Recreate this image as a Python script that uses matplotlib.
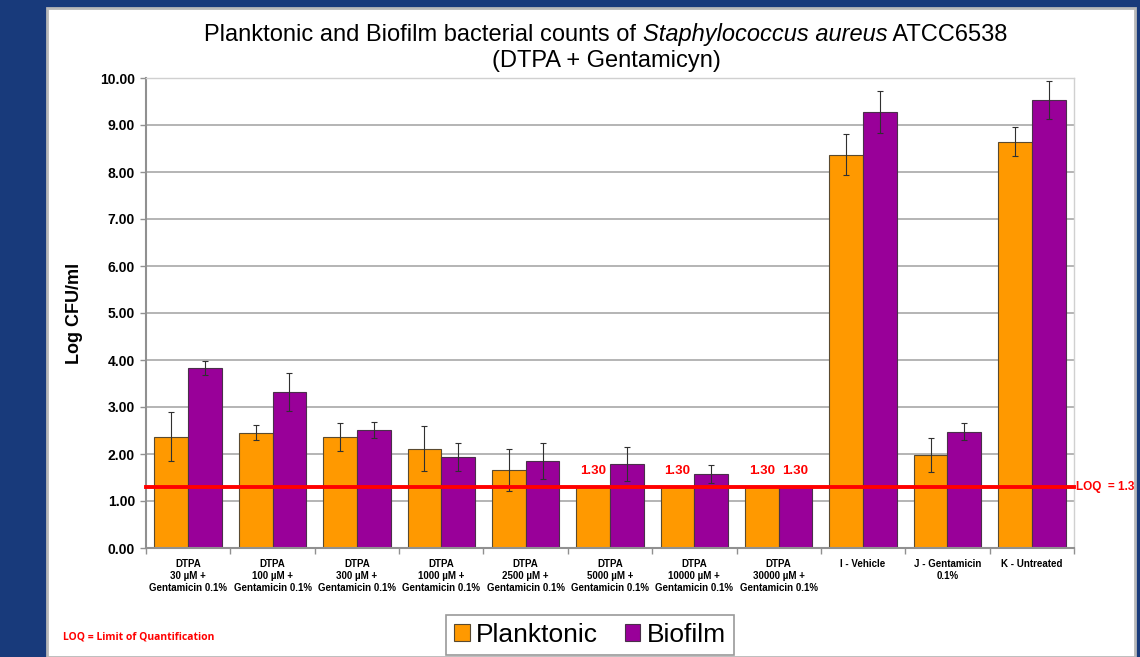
import numpy as np
import matplotlib
matplotlib.use("Agg")
import matplotlib.pyplot as plt
from matplotlib.patches import Rectangle

plt.rcParams['font.family'] = ['Liberation Sans', 'DejaVu Sans']

# data
groups = ["DTPA\n30 µM +\nGentamicin 0.1%", "DTPA\n100 µM +\nGentamicin 0.1%",
          "DTPA\n300 µM +\nGentamicin 0.1%", "DTPA\n1000 µM +\nGentamicin 0.1%",
          "DTPA\n2500 µM +\nGentamicin 0.1%", "DTPA\n5000 µM +\nGentamicin 0.1%",
          "DTPA\n10000 µM +\nGentamicin 0.1%", "DTPA\n30000 µM +\nGentamicin 0.1%",
          "I - Vehicle", "J - Gentamicin\n0.1%", "K - Untreated"]
planktonic = [2.37, 2.45, 2.36, 2.11, 1.66, 1.30, 1.30, 1.30, 8.37, 1.98, 8.64]
planktonic_err = [0.52, 0.16, 0.30, 0.48, 0.44, 0.0, 0.0, 0.0, 0.43, 0.37, 0.31]
biofilm = [3.83, 3.32, 2.51, 1.93, 1.85, 1.79, 1.57, 1.30, 9.28, 2.47, 9.53]
biofilm_err = [0.15, 0.40, 0.17, 0.30, 0.38, 0.36, 0.19, 0.0, 0.44, 0.18, 0.41]
loq = 1.3
# bars sitting on the LOQ get a red "1.30" label: (group index, series)
loq_labels = [(5, 0), (6, 0), (7, 0), (7, 1)]

W, H = 1140, 657
fig = plt.figure(figsize=(W / 100, H / 100), dpi=100)
fig.patch.set_facecolor('#183a7b')
fig.patches.append(Rectangle((47 / W, 0), (1135 - 47) / W, (H - 8) / H,
                             transform=fig.transFigure, facecolor='white',
                             edgecolor='#b8b8b8', lw=2, zorder=-5))

ax = fig.add_axes([146 / W, 1 - 548 / H, (1074 - 146) / W, (548 - 78) / H])
ax.set_facecolor('none')

x = np.arange(len(groups))
bw = 0.40
orange, purple = '#FF9900', '#990099'
ax.bar(x - bw / 2, planktonic, bw, color=orange, edgecolor='#5a4a30', lw=0.8,
       label='Planktonic', zorder=2)
ax.bar(x + bw / 2, biofilm, bw, color=purple, edgecolor='#4a304a', lw=0.8,
       label='Biofilm', zorder=2)
ax.errorbar(x - bw / 2, planktonic, yerr=planktonic_err, fmt='none',
            ecolor='#303030', elinewidth=0.8, capsize=2.5, capthick=0.8, zorder=3)
ax.errorbar(x + bw / 2, biofilm, yerr=biofilm_err, fmt='none',
            ecolor='#303030', elinewidth=0.8, capsize=2.5, capthick=0.8, zorder=3)

ax.axhline(loq, color='#ff0000', lw=2.8, zorder=4, clip_on=False)
for gi, s in loq_labels:
    xs = gi - bw / 2 if s == 0 else gi + bw / 2
    val = planktonic[gi] if s == 0 else biofilm[gi]
    ax.text(xs, val + 0.2, f"{val:.2f}", color='#ff0000', fontsize=9.5,
            fontweight='bold', ha='center', va='bottom', zorder=5)
ax.text(1.002, loq, f"LOQ  = {loq}", transform=ax.get_yaxis_transform(),
        color='#ff0000', fontsize=8.5, fontweight='bold', ha='left', va='center')

ax.set_xlim(-0.5, len(groups) - 0.5)
ax.set_ylim(0, 10)
ax.set_yticks(np.arange(0, 11, 1))
ax.set_yticklabels([f"{v:.2f}" for v in range(11)], fontsize=10, fontweight='bold')
ax.yaxis.grid(True, color='#a8a8a8', lw=1.2, zorder=0)
ax.set_axisbelow(True)

ax.set_xticks(x)
ax.set_xticklabels(groups, fontsize=7, fontweight='bold', linespacing=1.25, va='top')
ax.set_xticks(np.arange(-0.5, len(groups)), minor=True)
ax.tick_params(axis='x', which='major', length=0, pad=8)
ax.tick_params(axis='x', which='minor', length=4, color='#909090', width=1)
ax.tick_params(axis='y', length=4, color='#909090', width=1, pad=4)

for side in ['top', 'right']:
    ax.spines[side].set_color('#d0d0d0')
    ax.spines[side].set_linewidth(1)
for side in ['left', 'bottom']:
    ax.spines[side].set_color('#909090')
    ax.spines[side].set_linewidth(1.5)

ax.set_ylabel("Log CFU/ml", fontsize=13, fontweight='bold', labelpad=12)

# title with italic species name, laid out piece by piece
parts = [("Planktonic and Biofilm bacterial counts of ", 'normal'),
         ("Staphylococcus aureus", 'italic'),
         (" ATCC6538", 'normal')]
txts = [fig.text(0, 1 - 35 / H, p, fontsize=17, style=st, va='center', ha='left')
        for p, st in parts]
fig.canvas.draw()
r = fig.canvas.get_renderer()
widths = [t.get_window_extent(r).width for t in txts]
cx = 606
x0 = cx - sum(widths) / 2
for t, w in zip(txts, widths):
    t.set_x(x0 / W)
    x0 += w
fig.text(cx / W, 1 - 61 / H, "(DTPA + Gentamicyn)", fontsize=17, ha='center', va='center')

fig.text(63 / W, 1 - 637 / H, "LOQ = Limit of Quantification", color='#ff0000',
         fontsize=7.5, fontweight='bold', family=['Open Sans', 'DejaVu Sans'],
         va='center')

leg = ax.legend(loc='center', bbox_to_anchor=(590 / W, 1 - 635 / H),
                bbox_transform=fig.transFigure, ncol=2, fontsize=19,
                frameon=True, fancybox=False, edgecolor='#808080',
                handlelength=0.6, handleheight=0.6, handletextpad=0.25,
                columnspacing=1.0, borderpad=0.3, borderaxespad=0)
leg.get_frame().set_linewidth(1.2)

fig.savefig("out.png", dpi=100, facecolor=fig.get_facecolor())
